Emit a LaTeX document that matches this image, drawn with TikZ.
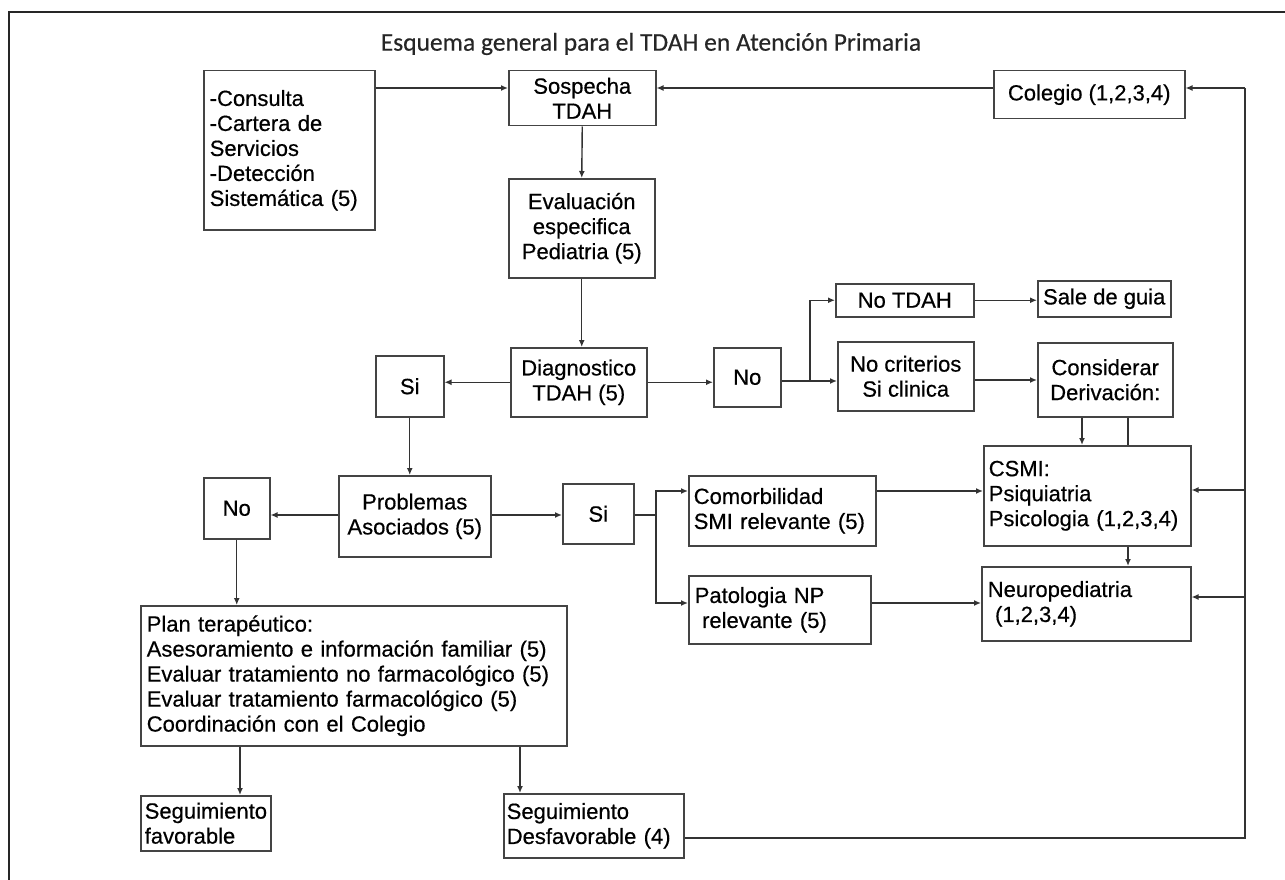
\documentclass[tikz,border=0pt]{standalone}
\usepackage{fontspec}
\setmainfont[FakeBold=0.5]{Liberation Sans}
\newfontfamily\titlefont[FakeBold=0.4]{Carlito}
\usetikzlibrary{arrows.meta}
\definecolor{ln}{HTML}{333333}
\definecolor{bd}{HTML}{444444}
\tikzset{
  box/.style={draw=bd, line width=1.5pt, inner sep=0pt, align=center,
    font=\fontsize{22}{25}\selectfont, text=black, anchor=north west},
  lbox/.style={box, align=left},
  arr/.style={draw=ln, line width=1.4pt, -{Latex[length=7pt,width=6pt]}},
  ln/.style={draw=ln, line width=1.4pt},
}
\begin{document}
\begin{tikzpicture}[x=1pt,y=-1pt]
\useasboundingbox (0,0) rectangle (1285,880);
\draw[line width=2.6pt, color=black!85] (9,880) -- (9,12) -- (1285,12);
\node[font=\titlefont\fontsize{25.5}{28}\selectfont, text=black!85] (title) at (651,44) {Esquema general para el TDAH en Atención Primaria};

\node[lbox, minimum width=171pt, minimum height=159pt, text width=159pt] (cons) at (203,70) {-Consulta\\-Cartera de\\Servicios\\-Detección\\Sistemática (5)};
\node[box, minimum width=147pt, minimum height=55pt] (sosp) at (508,70) {Sospecha\\TDAH};
\node[box, minimum width=191pt, minimum height=48pt] (coleg) at (993,70) {Colegio (1,2,3,4)};
\node[box, minimum width=146pt, minimum height=99pt] (eval) at (508,178) {Evaluación\\especifica\\Pediatria (5)};
\node[box, minimum width=136pt, minimum height=69pt] (diag) at (510,347) {Diagnostico\\TDAH (5)};
\node[box, minimum width=67pt, minimum height=59pt] (no1) at (713,347) {No};
\node[box, minimum width=68pt, minimum height=61pt] (si1) at (375,355) {Si};
\node[box, minimum width=138pt, minimum height=33pt] (notdah) at (835,283) {No TDAH};
\node[box, minimum width=133pt, minimum height=36pt] (sale) at (1037,280) {Sale de guia};
\node[box, minimum width=136pt, minimum height=69pt] (nocrit) at (837,341) {No criterios\\Si clinica};
\node[box, minimum width=135pt, minimum height=74pt] (consid) at (1037,342) {Considerar\\Derivación:};
\node[lbox, minimum width=207pt, minimum height=100pt, text width=197pt] (csmi) at (983,445) {CSMI:\\Psiquiatria\\Psicologia (1,2,3,4)};
\node[lbox, minimum width=209pt, minimum height=74pt, text width=197pt] (neuro) at (981,566) {Neuropediatria\\\ (1,2,3,4)};
\node[box, minimum width=152pt, minimum height=81pt] (prob) at (338,475) {Problemas\\Asociados (5)};
\node[box, minimum width=71pt, minimum height=60pt] (si2) at (562,483) {Si};
\node[box, minimum width=66pt, minimum height=61pt] (no2) at (203,477) {No};
\node[lbox, minimum width=187pt, minimum height=70pt, text width=177pt] (comor) at (688,475) {Comorbilidad\\SMI relevante (5)};
\node[lbox, minimum width=182pt, minimum height=68pt, text width=170pt] (pato) at (688,575) {Patologia NP\\\ relevante (5)};
\node[lbox, minimum width=426pt, minimum height=140pt, text width=414pt] (plan) at (140,605) {Plan terapéutico:\\Asesoramiento e información familiar (5)\\Evaluar tratamiento no farmacológico (5)\\Evaluar tratamiento farmacológico (5)\\Coordinación con el Colegio};
\node[lbox, minimum width=130pt, minimum height=55pt, text width=122pt] (segf) at (140,795) {Seguimiento\\favorable};
\node[lbox, minimum width=180pt, minimum height=64pt, text width=174pt] (segd) at (503,793) {Seguimiento\\Desfavorable (4)};

% connectors
\draw[arr] (cons.east |- 0,88) -- (sosp.west |- 0,88);
\draw[arr] (coleg.west |- 0,88) -- (sosp.east |- 0,88);
\draw[arr] (sosp.south) -- (eval.north);
\draw[arr] (eval.south) -- (eval.south |- diag.north);
\draw[arr] (diag.west) -- (si1.east |- diag.west);
\draw[arr] (diag.east) -- (no1.west |- diag.east);
\coordinate (sp1) at (810,381);
\draw[ln] (no1.east |- sp1) -- (sp1);
\draw[arr] (sp1) |- (notdah.west);
\draw[arr] (sp1) -- (nocrit.west |- sp1);
\draw[arr] (notdah.east) -- (sale.west |- notdah.east);
\draw[arr] (nocrit.east |- 0,380) -- (consid.west |- 0,380);
\draw[arr] (consid.south -| 1082,0) -- (csmi.north -| 1082,0);
\draw[ln] (consid.south -| 1128,0) -- (csmi.north -| 1128,0);
\draw[arr] (csmi.south -| 1128,0) -- (neuro.north -| 1128,0);
\draw[arr] (si1.south) -- (si1.south |- prob.north);
\draw[arr] (prob.west |- 0,515) -- (no2.east |- 0,515);
\draw[arr] (prob.east |- 0,515) -- (si2.west |- 0,515);
\coordinate (sp2) at (656,515);
\draw[ln] (si2.east |- sp2) -- (sp2);
\draw[arr] (sp2) |- (comor.west |- 0,491);
\draw[arr] (sp2) |- (pato.west |- 0,603);
\draw[arr] (comor.east |- 0,491) -- (csmi.west |- 0,491);
\draw[arr] (pato.east |- 0,603) -- (neuro.west |- 0,603);
\draw[arr] (no2.south) -- (no2.south |- plan.north);
\draw[arr] (plan.south -| 240,0) -- (segf.north -| 240,0);
\draw[arr] (plan.south -| 520,0) -- (segd.north -| 520,0);
\coordinate (rb) at (1245,838);
\coordinate (rt) at (1245,88);
\coordinate (r1) at (1245,490);
\coordinate (r2) at (1245,597);
\draw[ln] (segd.east |- rb) -- (rb) -- (rt);
\draw[arr] (rt) -- (coleg.east |- rt);
\draw[arr] (r1) -- (csmi.east |- r1);
\draw[arr] (r2) -- (neuro.east |- r2);
\end{tikzpicture}
\end{document}
